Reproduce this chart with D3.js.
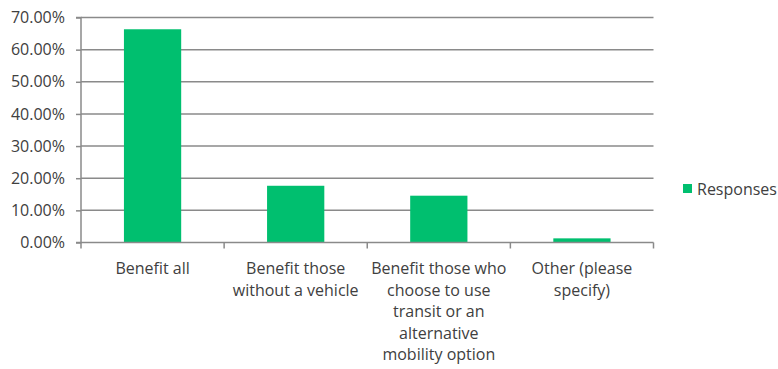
<!DOCTYPE html>
<html><head><meta charset="utf-8">
<script src="https://cdn.jsdelivr.net/npm/d3@7"></script>
<style>html,body{margin:0;padding:0;background:#fff;}svg{display:block;}</style>
</head><body>
<svg id="chart" width="778" height="369"></svg>
<script>
const categories = ["Benefit all", "Benefit those without a vehicle", "Benefit those who choose to use transit or an alternative mobility option", "Other (please specify)"];
const categoryLines = [["Benefit all"], ["Benefit those", "without a vehicle"], ["Benefit those who", "choose to use", "transit or an", "alternative", "mobility option"], ["Other (please", "specify)"]];
const responses = [0.6634, 0.1765, 0.1456, 0.0129];
const yTicks = [0, 0.1, 0.2, 0.3, 0.4, 0.5, 0.6, 0.7];
const seriesName = "Responses";

const svg = d3.select("#chart");
const font = "'Open Sans', Lato, sans-serif";
const fs = 16;
const mLeft = 81, mRight = 653.5, mTop = 17.5, mBottom = 242.5;
const green = "#00BF6F", grid = "#8a8a8a", txt = "#404040";

const x = d3.scaleBand().domain(categories).range([mLeft, mRight]).paddingInner(0.6).paddingOuter(0.3);
const y = d3.scaleLinear().domain([0, 0.7]).range([mBottom, mTop]);

// gridlines
svg.append("g").selectAll("line").data(yTicks.filter(d => d > 0)).join("line")
  .attr("x1", mLeft).attr("x2", mRight).attr("y1", d => y(d)).attr("y2", d => y(d))
  .attr("stroke", grid).attr("stroke-width", 1.5);

// bars
svg.append("g").selectAll("rect").data(responses).join("rect")
  .attr("x", (d, i) => x(categories[i])).attr("width", x.bandwidth())
  .attr("y", d => y(d)).attr("height", d => y(0) - y(d))
  .attr("fill", green);

// y axis
const yAxis = svg.append("g").attr("transform", `translate(${mLeft},0)`)
  .call(d3.axisLeft(y).tickValues(yTicks).tickFormat(d3.format(".2%")).tickSize(5).tickPadding(11));
yAxis.select(".domain").attr("stroke", grid).attr("stroke-width", 1.5).attr("d", `M-5,${mTop}H0V${mBottom}H-5`);
yAxis.selectAll(".tick line").attr("stroke", grid).attr("stroke-width", 1.5);
yAxis.selectAll(".tick text").attr("fill", txt).attr("font-family", font).attr("font-size", fs);

// x axis
const xAxis = svg.append("g").attr("transform", `translate(0,${mBottom})`)
  .call(d3.axisBottom(x).tickSize(0).tickFormat(""));
xAxis.select(".domain").attr("stroke", grid).attr("stroke-width", 1.5).attr("d", `M${mLeft},0H${mRight}`);
const step = x.step();
const bounds = d3.range(categories.length + 1).map(i => x(categories[0]) - x.paddingOuter() * step + i * step);
xAxis.append("g").selectAll("line").data(bounds).join("line")
  .attr("x1", d => d).attr("x2", d => d).attr("y1", 0).attr("y2", 6)
  .attr("stroke", grid).attr("stroke-width", 1.5);

// x labels
const lab = svg.append("g");
categories.forEach((c, i) => {
  const cx = x(c) + x.bandwidth() / 2;
  const t = lab.append("text").attr("x", cx).attr("y", 274).attr("text-anchor", "middle")
    .attr("fill", txt).attr("font-family", font).attr("font-size", fs);
  categoryLines[i].forEach((ln, j) => {
    t.append("tspan").attr("x", cx).attr("dy", j === 0 ? 0 : 21.6).text(ln);
  });
});

// legend
svg.append("rect").attr("x", 683).attr("y", 184).attr("width", 9).attr("height", 9).attr("fill", green);
svg.append("text").attr("x", 697).attr("y", 194.5).attr("fill", txt).attr("font-family", font)
  .attr("font-size", fs).text(seriesName);
</script>
</body></html>
